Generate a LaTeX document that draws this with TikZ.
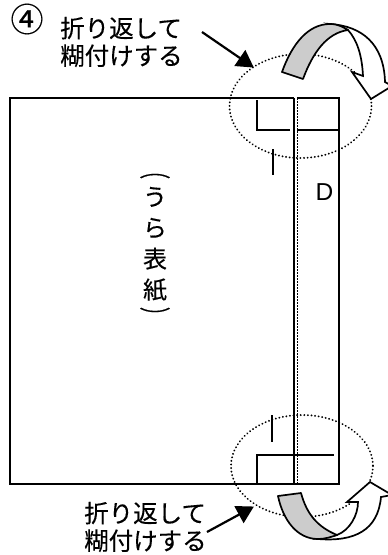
\documentclass[tikz,border=0pt]{standalone}
\usepackage{fontspec}
\setmainfont{Noto Sans CJK JP}[FakeBold=0.25]
\newfontfamily\latinfont{Liberation Sans}
\newfontfamily\boldjp{Noto Sans CJK JP}[FakeBold=0.6]
\usetikzlibrary{arrows.meta}
\definecolor{bandgray}{gray}{0.8}
\tikzset{
  x=1pt,y=-1pt,
  paper/.style={line width=1.8pt,line join=miter},
  mark line/.style={line width=1.7pt},
  fold circle/.style={line width=2pt,dash pattern=on 0.1pt off 3.5pt,line cap=round},
  fold band/.style={draw=black,fill=bandgray,line width=1.7pt,line join=round},
  fold arrow/.style={draw=black,fill=white,line width=1.7pt,line join=miter},
  pointer/.style={line width=2.2pt,-{Triangle[length=17pt,width=19pt]},shorten >=-1pt},
  jp/.style={inner sep=0pt,font=\fontsize{24.5}{27.5}\selectfont,align=left},
  vert/.style={inner sep=0pt,font=\fontsize{24}{31}\selectfont,align=center},
  vparen/.style={inner sep=0pt,rotate=-90,font=\boldjp\fontsize{31}{31}\selectfont},
}
\begin{document}
\begin{tikzpicture}
\useasboundingbox (0,0) rectangle (388,555);
% paper
\draw[paper] (294,98) -- (10,98) -- (10,484) -- (294,484);
\draw[paper] (294,98) -- (294,484);
\draw[paper] (297,98) -- (338,98);
\draw[paper] (339,97) -- (339,484) -- (294,484);
\draw[line width=1.5pt,dash pattern=on 1.5pt off 1.5pt] (297.5,98) -- (297.5,484);
% top marks
\draw[mark line] (257,100) -- (257,130) -- (290,130);
\draw[mark line] (297,130) -- (338,130);
\draw[mark line] (273,149) -- (273,175);
% bottom marks
\draw[mark line] (257,484) -- (257,455) -- (334,455);
\draw[mark line] (272,415) -- (272,442);
% circles
\draw[fold circle] (300.5,106) ellipse [x radius=71,y radius=52];
\draw[fold circle] (302,466) ellipse [x radius=71,y radius=51];
% top fold
\draw[fold arrow] (330,24) .. controls (362,26) and (384,44) .. (385,82)
  -- (392,86) -- (371,99) -- (352,72) -- (363,76)
  .. controls (362,55) and (357,40) .. (348,30) -- cycle;
\draw[fold band] (282,72) .. controls (292,44) and (308,24) .. (330,24)
  .. controls (338,24) and (343,27) .. (348,30)
  .. controls (327,33) and (313,52) .. (303,79) -- cycle;
% bottom fold
\draw[fold arrow] (318,539) .. controls (355,542) and (378,530) .. (381,497)
  -- (392,495) -- (370,482) -- (347,502) -- (358,502)
  .. controls (358,515) and (350,530) .. (337,535) -- cycle;
\draw[fold band] (278,496) .. controls (283,520) and (297,539) .. (318,539)
  .. controls (325,539) and (331,537) .. (337,535)
  .. controls (318,527) and (307,515) .. (301,493) -- cycle;
% text
\node[inner sep=0pt,font=\fontsize{33}{33}\selectfont] (num) at (27,19) {④};
\node[jp,anchor=west] (topnote) at (60,42) {折り返して\\糊付けする};
\node[jp,anchor=west] (botnote) at (84,527) {折り返して\\糊付けする};
\node[inner sep=0pt,font=\latinfont\fontsize{24.5}{24.5}\selectfont] (dlabel) at (324.5,192) {D};
\node[vert] (vtext) at (155,244) {う\\ら\\表\\紙};
\node[vparen] (popen) at (155,170.5) {\scalebox{0.55}[1]{（}};
\node[vparen] (pclose) at (155,315.5) {\scalebox{0.55}[1]{）}};
% pointers
\coordinate (topstart) at (202,32);
\coordinate (toptip) at (253,67);
\coordinate (botstart) at (207,532);
\coordinate (bottip) at (253,507);
\draw[pointer] (topstart) -- (toptip);
\draw[pointer] (botstart) -- (bottip);
\end{tikzpicture}
\end{document}
